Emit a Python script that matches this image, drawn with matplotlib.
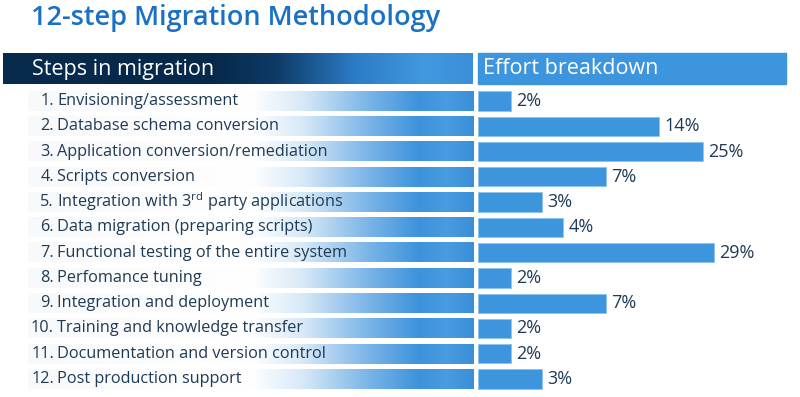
import numpy as np
import matplotlib
matplotlib.use("Agg")
import matplotlib.pyplot as plt
from matplotlib.colors import LinearSegmentedColormap

plt.rcParams['font.family'] = ['Open Sans', 'DejaVu Sans']
plt.rcParams['mathtext.fontset'] = 'custom'
plt.rcParams['mathtext.rm'] = 'Open Sans'
plt.rcParams['mathtext.it'] = 'Open Sans:italic'

title = "12-step Migration Methodology"
header_left = "Steps in migration"
header_right = "Effort breakdown"
steps = [
    "Envisioning/assessment",
    "Database schema conversion",
    "Application conversion/remediation",
    "Scripts conversion",
    "Integration with 3$^{\\mathrm{rd}}$ party applications",
    "Data migration (preparing scripts)",
    "Functional testing of the entire system",
    "Perfomance tuning",
    "Integration and deployment",
    "Training and knowledge transfer",
    "Documentation and version control",
    "Post production support",
]
effort = [2, 14, 25, 7, 3, 4, 29, 2, 7, 2, 2, 3]

W, H = 800, 397
fig = plt.figure(figsize=(W / 100, H / 100), dpi=100)

# background axes in pixel coordinates (title + headers)
bg = fig.add_axes([0, 0, 1, 1])
bg.set_xlim(0, W)
bg.set_ylim(H, 0)
bg.axis('off')

bg.text(31, 18, title, color='#1a71c4', fontsize=19.5, fontweight='semibold',
        ha='left', va='center')

hdr_cmap = LinearSegmentedColormap.from_list(
    'hdr', [(0.0, '#062a4d'), (0.45, '#07294b'), (0.58, '#0d3a66'),
            (0.75, '#2c7cc6'), (0.9, '#4299df'), (1.0, '#3a8fd9')])
grad = np.linspace(0, 1, 512).reshape(1, -1)
bg.imshow(grad, extent=(3, 473, 84, 53), aspect='auto', cmap=hdr_cmap, zorder=1)
bg.add_patch(plt.Rectangle((478, 53), 308, 31, color='#3d95dd', zorder=1))
bg.set_xlim(0, W)
bg.set_ylim(H, 0)
bg.text(32, 69, header_left, color='white', fontsize=15.5, ha='left', va='center', zorder=2)
bg.text(483, 69, header_right, color='white', fontsize=15.5, ha='left', va='center', zorder=2)

n = len(steps)
bottom = (H - 391.6) / H
height = 303.2 / H

# left axes: step labels with gradient bands
axl = fig.add_axes([0, bottom, 473 / W, height])
row_cmap = LinearSegmentedColormap.from_list(
    'row', [(0.0, '#f8f9fa'), (0.5, '#ffffff'), (0.62, '#d6e8f7'),
            (0.76, '#7db6e8'), (0.88, '#3c92dc'), (0.94, '#4a9ce0'), (1.0, '#3a8fd9')])
for i, s in enumerate(steps):
    axl.imshow(grad, extent=(28, 473, i + 0.39, i - 0.39), aspect='auto',
               cmap=row_cmap, zorder=0)
    axl.text(54, i, f"{i + 1}.", ha='right', va='center', fontsize=11.7,
             color='#1f3a55', zorder=2)
    axl.text(57, i, s, ha='left', va='center', fontsize=11.7,
             color='#1f3a55', zorder=2)
axl.set_xlim(0, 473)
axl.set_ylim(n - 0.5, -0.5)
axl.axis('off')

# right axes: effort bars
axr = fig.add_axes([478 / W, bottom, (W - 478) / W, height])
ypos = np.arange(n)
base = 1.3
axr.set_xscale('log')
axr.barh(ypos, [v - base for v in effort], left=base, height=0.76,
         color='#3d95dd', edgecolor='#8cc2ee', linewidth=0.6)
for i, v in enumerate(effort):
    axr.annotate(f"{v}%", (v, i), xytext=(4, 0), textcoords='offset points',
                 ha='left', va='center', fontsize=13, color='#1f3a55')
axr.set_xlim(base, 90)
axr.set_ylim(n - 0.5, -0.5)
axr.axis('off')

fig.savefig('out.png', dpi=100, facecolor='white')
